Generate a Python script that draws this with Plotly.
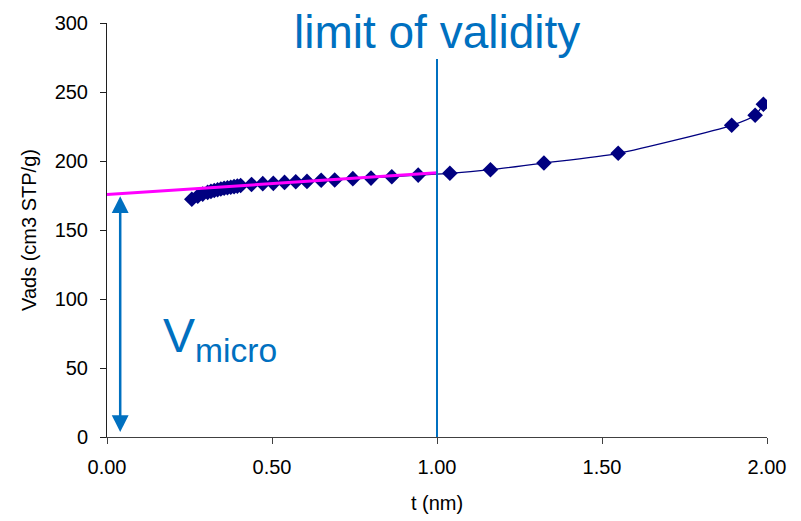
import plotly.graph_objects as go

# data
t_nm = [0.257, 0.275, 0.290, 0.305, 0.315, 0.325, 0.335, 0.345, 0.355, 0.365, 0.375, 0.385,
        0.395, 0.405, 0.438, 0.472, 0.504, 0.538, 0.572, 0.606, 0.649, 0.690, 0.745, 0.800,
        0.863, 0.943, 1.039, 1.162, 1.324, 1.549, 1.893, 1.964, 1.989]
v_ads = [172.3, 174.5, 176.0, 177.3, 178.0, 178.6, 179.2, 179.7, 180.2, 180.6, 181.0, 181.4,
         181.8, 182.2, 183.0, 183.6, 183.8, 184.5, 185.0, 185.2, 186.0, 186.2, 187.2, 187.6,
         188.6, 189.8, 191.1, 193.7, 198.5, 205.6, 225.9, 233.2, 241.1]

fit_t = [0.0, 1.0]
fit_v = [175.8, 191.4]

limit_t = [1.0, 1.0]
limit_v = [0.0, 274.0]

arrow_t = 0.04
arrow_v = [174.5, 2.5]

x_ticks = [0.0, 0.5, 1.0, 1.5, 2.0]
y_ticks = [0, 50, 100, 150, 200, 250, 300]

BLUE = "#0070C0"
NAVY = "#000080"
FONT = "Liberation Sans, Arial, sans-serif"

fig = go.Figure()

fig.add_trace(go.Scatter(
    x=t_nm, y=v_ads, mode="lines+markers",
    line=dict(color=NAVY, width=1.3, shape="spline", smoothing=0.6),
    marker=dict(symbol="diamond", size=12, color=NAVY),
    showlegend=False, hoverinfo="skip"))

fig.add_trace(go.Scatter(
    x=fit_t, y=fit_v, mode="lines",
    line=dict(color="#FF00FF", width=3),
    showlegend=False, hoverinfo="skip"))

fig.add_trace(go.Scatter(
    x=limit_t, y=limit_v, mode="lines",
    line=dict(color=BLUE, width=2),
    showlegend=False, hoverinfo="skip"))

# double-headed arrow for V_micro
fig.add_annotation(
    x=arrow_t, y=arrow_v[0], ax=arrow_t, ay=arrow_v[1],
    xref="x", yref="y", axref="x", ayref="y",
    text="", showarrow=True, arrowhead=2, startarrowhead=2,
    arrowside="end+start", arrowwidth=2.5, arrowsize=1.35, startarrowsize=1.35,
    arrowcolor=BLUE, standoff=0, startstandoff=0)

fig.add_annotation(
    x=0.165, y=71, xref="x", yref="y", xanchor="left", yanchor="middle",
    text="V<sub>micro</sub>", showarrow=False,
    font=dict(family=FONT, size=48, color=BLUE))

fig.add_annotation(
    x=1.0, y=293.5, xref="x", yref="y", xanchor="center", yanchor="middle",
    text="limit of validity", showarrow=False,
    font=dict(family=FONT, size=46, color=BLUE))

fig.update_layout(
    width=801, height=521,
    margin=dict(l=107, r=34, t=23, b=84),
    plot_bgcolor="white", paper_bgcolor="white",
    font=dict(family=FONT, size=20, color="black"),
)

fig.update_xaxes(
    range=[0, 2], tickvals=x_ticks, tickformat=".2f",
    showgrid=False, zeroline=False,
    showline=True, linecolor="#404040", linewidth=1,
    ticks="outside", ticklen=6, tickcolor="#404040",
    ticklabelstandoff=6,
    title=dict(text="t (nm)", font=dict(size=20), standoff=18))

fig.update_yaxes(
    range=[0, 300], tickvals=y_ticks,
    showgrid=False, zeroline=False,
    showline=True, linecolor="#202020", linewidth=1,
    ticks="outside", ticklen=6, tickcolor="#202020",
    ticklabelstandoff=8,
    title=dict(text="Vads (cm3 STP/g)", font=dict(size=20), standoff=12))

fig.write_html("out.html")
